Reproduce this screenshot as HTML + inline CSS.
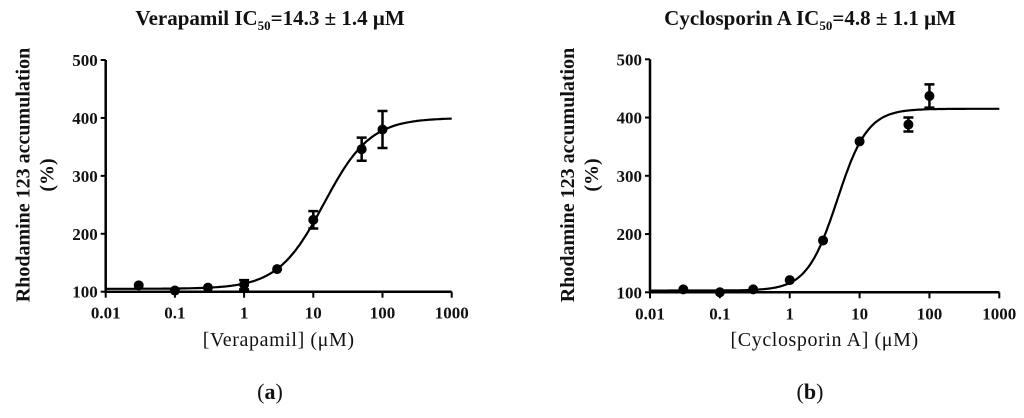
<!DOCTYPE html>
<html><head><meta charset="utf-8"><style>
body{margin:0;background:#fff;}
svg text{font-family:"Liberation Serif",serif;fill:#111;}
</style></head><body>
<svg id="c" width="1024" height="413" viewBox="0 0 1024 413"></svg>
<script>
const xTicks=[0.01,0.1,1,10,100,1000];
const xTickLabels=["0.01","0.1","1","10","100","1000"];
const yTicks=[100,200,300,400,500];
const concA=[0.03,0.1,0.3,1,3,10,50,100];
const valA=[111,102,107,112,139,224,346,380];
const errA=[3,2,3,8,3,15,20,32];
const fitA=[105,400,14.3,1.3];
const concB=[0.03,0.1,0.3,1,3,10,50,100];
const valB=[105,100,105,121,189,359,388,437];
const errB=[2,3,2,3,3,3,12,20];
const fitB=[103,415,4.8,2.0];
const NS="http://www.w3.org/2000/svg";
const svg=document.getElementById('c');
function el(t,a,p){const e=document.createElementNS(NS,t);for(const k in a)e.setAttribute(k,a[k]);(p||svg).appendChild(e);return e;}
function panel(cfg){
 const g=el('g',{});
 
 
 const X=v=>cfg.x0+(Math.log10(v)+2)*(cfg.x1-cfg.x0)/5;
 const Y=v=>cfg.y0-(v-100)*(cfg.y0-cfg.y1)/400;
 const ax=el('path',{d:`M${cfg.x0},${cfg.y1}V${cfg.y0}H${cfg.x1}`,fill:'none',stroke:'#000','stroke-width':2.5},g);
 
 yTicks.forEach(v=>{el('line',{x1:cfg.x0-5,x2:cfg.x0,y1:Y(v),y2:Y(v),stroke:'#000','stroke-width':2},g);
  const t=el('text',{x:cfg.x0-8,y:Y(v)+6,'text-anchor':'end','font-size':17,'font-weight':'bold'},g);t.textContent=v;
  });
 xTicks.forEach((v,i)=>{el('line',{x1:X(v),x2:X(v),y1:cfg.y0,y2:cfg.y0+6,stroke:'#000','stroke-width':2},g);
  const t=el('text',{x:X(v),y:cfg.y0+27,'text-anchor':'middle','font-size':17,'font-weight':'bold'},g);t.textContent=xTickLabels[i];
  });
 const [b,tp,ic,h]=cfg.fit;let d='';
 for(let i=0;i<=200;i++){const lx=-2+5*i/200;const v=b+(tp-b)/(1+Math.pow(10,(Math.log10(ic)-lx)*h));d+=(i?'L':'M')+X(Math.pow(10,lx)).toFixed(1)+','+Y(v).toFixed(1);}
 const c=el('path',{d,fill:'none',stroke:'#000','stroke-width':2.2},g);
 
 cfg.conc.forEach((x,i)=>{const cx=X(x),v=cfg.val[i],e=cfg.err[i];
  if(e>4){const eb=el('path',{d:`M${cx},${Y(v+e)}V${Y(v-e)}M${cx-5},${Y(v+e)}h10M${cx-5},${Y(v-e)}h10`,stroke:'#000','stroke-width':2.5,fill:'none'},g);
   }
  const p=el('circle',{cx,cy:Y(v),r:5,fill:'#000'},g);
  });
 const tt=el('text',{x:cfg.tx,y:25,'text-anchor':'middle','font-size':21,'font-weight':'bold'},g);
 tt.innerHTML=cfg.title;
 const yl=el('text',{transform:`translate(${cfg.x0-76},175) rotate(-90)`,'text-anchor':'middle','font-size':20,'font-weight':'bold'},g);
 yl.textContent='Rhodamine 123 accumulation';
 const yl2=el('text',{transform:`translate(${cfg.x0-52},175) rotate(-90)`,'text-anchor':'middle','font-size':20,'font-weight':'bold'},g);
 yl2.textContent='(%)';
 const xl=el('text',{x:(cfg.x0+cfg.x1)/2,y:346,'text-anchor':'middle','font-size':20,'letter-spacing':'0.6'},g);
 xl.textContent=cfg.xlabel;
 const pl=el('text',{x:cfg.tx,y:399,'text-anchor':'middle','font-size':22},g);
 pl.innerHTML=cfg.lab;
}
panel({name:'verapamil-chart',x0:105.7,x1:451.7,y0:291.7,y1:60,conc:concA,val:valA,err:errA,fit:fitA,tx:270,
 title:'Verapamil IC<tspan font-size="13" dy="5">50</tspan><tspan dy="-5">=14.3 ± 1.4 μM</tspan>',xlabel:'[Verapamil] (μM)',lab:'(<tspan font-weight="bold">a</tspan>)'});
panel({name:'cyclosporin-chart',x0:650,x1:999.3,y0:292.3,y1:59.3,conc:concB,val:valB,err:errB,fit:fitB,tx:810,
 title:'Cyclosporin A IC<tspan font-size="13" dy="5">50</tspan><tspan dy="-5">=4.8 ± 1.1 μM</tspan>',xlabel:'[Cyclosporin A] (μM)',lab:'(<tspan font-weight="bold">b</tspan>)'});
</script>
</body></html>
